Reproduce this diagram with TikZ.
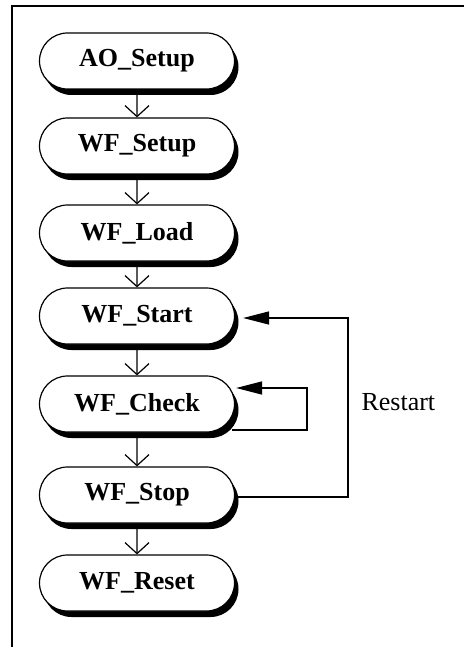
\documentclass[tikz,border=0pt]{standalone}
\usepackage{fontspec}
\setmainfont{Liberation Serif}
\usetikzlibrary{shapes.misc,shadows,arrows.meta}
\begin{document}
\begin{tikzpicture}[x=1pt,y=-1pt,
  state/.style={rounded rectangle, draw, line width=1.2pt, fill=white,
    minimum width=195pt, minimum height=56pt, inner sep=0pt,
    font=\fontsize{26}{30}\selectfont\bfseries,
    drop shadow={shadow xshift=4pt, shadow yshift=-6pt, fill=black, opacity=1}},
  flow/.style={line width=1.2pt, -{Straight Barb[length=11pt,width=24pt,line width=1.2pt]}},
  back/.style={line width=1.4pt, -{Triangle[length=26pt,width=13pt]}},
  frame/.style={line width=2pt}]
\useasboundingbox (0,0) rectangle (464,647);
\draw[frame] (464,6) -- (12,6) -- (12,647);

\node[state] (ao)     at (137,61)  {AO\_Setup};
\node[state] (setup)  at (137,146) {WF\_Setup};
\node[state] (load)   at (137,233) {WF\_Load};
\node[state] (start)  at (137,316) {WF\_Start};
\node[state] (check)  at (137,404) {WF\_Check};
\node[state] (stop)   at (137,495) {WF\_Stop};
\node[state] (reset)  at (137,583) {WF\_Reset};

\draw[flow] (ao) -- (setup);
\draw[flow] (setup) -- (load);
\draw[flow] (load) -- (start);
\draw[flow] (start) -- (check);
\draw[flow] (check) -- (stop);
\draw[flow] (stop) -- (reset);

\coordinate (lr) at (307,430);
\coordinate (ur) at (307,388);
\draw[back] ([shift={(-3,26)}]check.east) -- (lr) -- (ur) -- ([shift={(1,-16)}]check.east);

\coordinate (rb) at (348,497);
\coordinate (rt) at (348,318);
\draw[back] ([shift={(0,2)}]stop.east) -- (rb) -- (rt) -- ([shift={(8,2)}]start.east);

\node[anchor=west, font=\fontsize{26}{30}\selectfont] (lbl) at (358,402) {Restart};
\end{tikzpicture}
\end{document}
